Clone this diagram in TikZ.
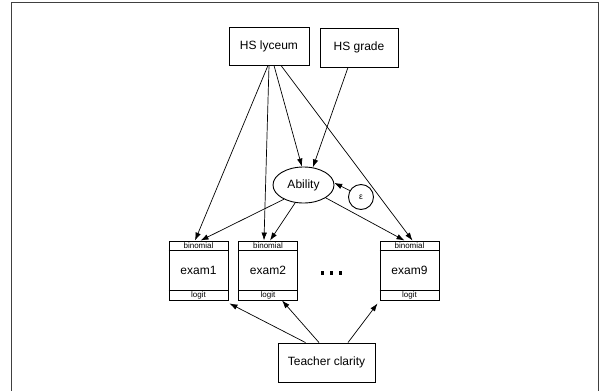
\documentclass[tikz,border=0pt]{standalone}
\usepackage{fontspec}
\setmainfont{Liberation Sans}
\usetikzlibrary{arrows.meta,calc,shapes.geometric}
\begin{document}
\begin{tikzpicture}[x=1pt,y=-1pt,
  box/.style={draw,line width=0.9pt,inner sep=0pt,font=\fontsize{12}{14}\selectfont},
  exambox/.style={draw,line width=0.9pt,minimum width=59pt,minimum height=59pt,inner sep=0pt},
  small/.style={inner sep=0pt,font=\fontsize{8}{9}\selectfont},
  arr/.style={line width=0.7pt,-{Latex[length=8pt,width=5.5pt]}},
  dotsq/.style={fill=black,minimum size=3.5pt,inner sep=0pt}]
\useasboundingbox (0,0) rectangle (603,391);
\draw[line width=1pt,black!75] (11.5,391) -- (11.5,2) -- (598.5,2) -- (598.5,391);
% nodes
\node[box,minimum width=80pt,minimum height=38pt] (hsl) at (269,46) {HS lyceum};
\node[box,minimum width=78pt,minimum height=39pt] (hsg) at (359,47.5) {HS grade};
\node[draw,ellipse,line width=0.9pt,minimum width=61pt,minimum height=36pt,inner sep=0pt,font=\fontsize{12}{14}\selectfont] (ab) at (303.5,185) {Ability};
\node[draw,circle,line width=0.9pt,minimum size=25pt,inner sep=0pt,font=\fontsize{8.5}{10}\selectfont] (eps) at (361,197) {ε};
\foreach \n/\t/\x in {e1/exam1/198.5,e2/exam2/268,e9/exam9/409.5}{
  \node[exambox] (\n) at (\x,270.5) {};
  \draw[line width=0.9pt] ($(\n.north west)+(0,10)$) -- ($(\n.north east)+(0,10)$);
  \draw[line width=0.9pt] ($(\n.south west)+(0,-10.5)$) -- ($(\n.south east)+(0,-10.5)$);
  \node[small] (\n b) at ($(\n.north)+(0,5)$) {binomial};
  \node[small] (\n l) at ($(\n.south)+(0,-5)$) {logit};
  \node[inner sep=0pt,font=\fontsize{12}{14}\selectfont] (\n t) at (\x,270) {\t};
}
\node[box,minimum width=97pt,minimum height=39pt] (tc) at (326.5,362.5) {Teacher clarity};
\node[dotsq] (d1) at (322.5,273) {};
\node[dotsq] (d2) at (331.5,273) {};
\node[dotsq] (d3) at (340.5,273) {};
% connectors
\draw[arr] ([xshift=-1pt]hsl.south) -- ([xshift=-3.5pt]e1.north);
\draw[arr] ([xshift=0pt]hsl.south) -- ([xshift=-4pt]e2.north);
\draw[arr] ([xshift=5pt]hsl.south) -- (ab.95);
\draw[arr] ([xshift=12pt]hsl.south) -- ([xshift=3pt]e9.north);
\draw[arr] ([xshift=-11pt]hsg.south) -- (ab.62);
\draw[arr] (ab.216) -- ([xshift=2pt]e1.north);
\draw[arr] (ab.245) -- ([xshift=2pt]e2.north);
\draw[arr] (ab.330) -- ([xshift=-5pt]e9.north);
\draw[arr] (eps.150) -- (ab.4);
\draw[arr] ([xshift=-21pt]tc.north) -- ([xshift=1pt,yshift=-3pt]e1.south east);
\draw[arr] ([xshift=-7.5pt]tc.north) -- ([xshift=14pt]e2.south);
\draw[arr] ([xshift=21.5pt]tc.north) -- ([xshift=-2pt,yshift=-3pt]e9.south west);
\end{tikzpicture}
\end{document}
